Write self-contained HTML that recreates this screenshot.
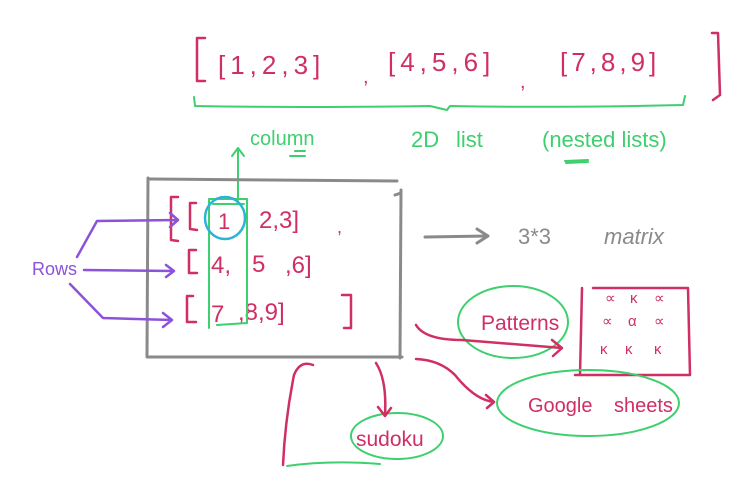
<!DOCTYPE html>
<html><head><meta charset="utf-8"><style>
html,body{margin:0;padding:0;background:#fff;width:751px;height:493px;overflow:hidden}
svg{display:block}
text{font-family:"Liberation Sans",sans-serif}
</style></head><body>
<svg width="751" height="493" viewBox="0 0 751 493" xmlns="http://www.w3.org/2000/svg" fill="none" stroke-linecap="round" stroke-linejoin="round">
<g stroke="#cf2f63" stroke-width="2.5">
<path d="M205 38 L197 38 L197 81 L205 81"/>
<path d="M712 33 L718 33 L720 95 L713 100"/>
</g>
<g fill="#cf2f63" font-size="26">
<text x="218" y="74" letter-spacing="5">[1,2,3]</text>
<text x="363" y="83" font-size="20">,</text>
<text x="388" y="71" letter-spacing="5">[4,5,6]</text>
<text x="520" y="88" font-size="20">,</text>
<text x="560" y="71" letter-spacing="4">[7,8,9]</text>
</g>
<path d="M194 97 L195 106 Q300 108 430 106 L447 110 L450 106 Q560 108 683 105 L685 96" stroke="#3ecf6e" stroke-width="2"/>
<g fill="#3ecf6e" font-size="22">
<text x="250" y="145" font-size="20">column</text>
<text x="411" y="147">2D</text>
<text x="456" y="147">list</text>
<text x="542" y="147">(nested lists)</text>
</g>
<path d="M295 151 L305 151 M290 156 L305 156" stroke="#3ecf6e" stroke-width="2"/>
<path d="M565 161 L588 160 M566 163 L588 162" stroke="#3ecf6e" stroke-width="2"/>
<path d="M238 200 L238 148 M232 156 L238 148 L244 156" stroke="#3ecf6e" stroke-width="2"/>
<path d="M148 178 L147 356 M147 357 L402 357 M401 190 L400 358 M150 179 L397 181 M395 195 L401 193" stroke="#8a8a8a" stroke-width="3"/>
<g stroke="#cf2f63" stroke-width="2.5">
<path d="M178 197 L171 197 L171 240 L178 241"/>
<path d="M196 203 L190 203 L190 229 L197 230"/>
<path d="M196 250 L189 250 L189 273 L197 273"/>
<path d="M193 296 L187 296 L187 322 L196 322"/>
<path d="M342 295 L351 295 L351 328 L344 328"/>
</g>
<g fill="#cf2f63" font-size="24">
<text x="218" y="229" font-size="22">1</text>
<text x="259" y="228">2,3]</text>
<text x="337" y="233" font-size="18">,</text>
<text x="211" y="273">4,</text>
<text x="252" y="272">5</text>
<text x="285" y="273">,6]</text>
<text x="211" y="322">7</text>
<text x="238" y="320">,8,9]</text>
</g>
<path d="M209 199 L247 199 L247 323 L217 325 M209 199 L209 328 M213 204 L244 204" stroke="#3ecf6e" stroke-width="2"/>
<ellipse cx="225" cy="218" rx="20" ry="21" stroke="#2fb2d6" stroke-width="2.5"/>
<text x="32" y="275" fill="#8c52d9" font-size="18">Rows</text>
<g stroke="#8c52d9" stroke-width="2.5">
<path d="M77 257 L97 221 L178 220 M170 213 L178 220 L170 227"/>
<path d="M84 270 L174 271 M166 265 L174 271 L166 277"/>
<path d="M70 284 L103 318 L172 320 M163 313 L172 320 L163 327"/>
</g>
<path d="M425 237 L488 236 M477 229 L488 236 L477 243" stroke="#8a8a8a" stroke-width="3"/>
<text x="518" y="244" fill="#8a8a8a" font-size="22">3*3</text>
<text x="604" y="244" fill="#8a8a8a" font-size="22" font-style="italic">matrix</text>
<ellipse cx="513" cy="322" rx="55" ry="36" stroke="#3ecf6e" stroke-width="2"/>
<text x="481" y="330" fill="#cf2f63" font-size="21">Patterns</text>
<path d="M416 325 Q425 340 462 340 L562 348 M552 340 L562 348 L553 356" stroke="#cf2f63" stroke-width="2.5"/>
<path d="M582 288 L580 375 M593 288 L688 288 L690 375 L575 375" stroke="#cf2f63" stroke-width="2.5"/>
<g fill="#cf2f63" font-size="15">
<text x="605" y="303">∝</text><text x="630" y="303">κ</text><text x="654" y="303">∝</text>
<text x="602" y="326">∝</text><text x="628" y="326">α</text><text x="654" y="326">∝</text>
<text x="600" y="354">κ</text><text x="625" y="354">κ</text><text x="654" y="354">κ</text>
</g>
<ellipse cx="588" cy="403" rx="91" ry="33" stroke="#3ecf6e" stroke-width="2"/>
<text x="528" y="412" fill="#cf2f63" font-size="20">Google</text>
<text x="614" y="412" fill="#cf2f63" font-size="20">sheets</text>
<path d="M416 359 Q440 360 455 375 Q475 400 494 402 M486 395 L494 402 L487 408" stroke="#cf2f63" stroke-width="2.5"/>
<ellipse cx="397" cy="436" rx="46" ry="23" stroke="#3ecf6e" stroke-width="2"/>
<text x="356" y="446" fill="#cf2f63" font-size="21">sudoku</text>
<path d="M376 363 Q387 380 385 415 M378 407 L385 416 L391 408" stroke="#cf2f63" stroke-width="2.5"/>
<path d="M313 365 Q300 360 294 375 Q285 420 283 465" stroke="#cf2f63" stroke-width="2.5"/>
<path d="M287 466 Q330 460 380 464" stroke="#3ecf6e" stroke-width="2"/>
</svg>
</body></html>
